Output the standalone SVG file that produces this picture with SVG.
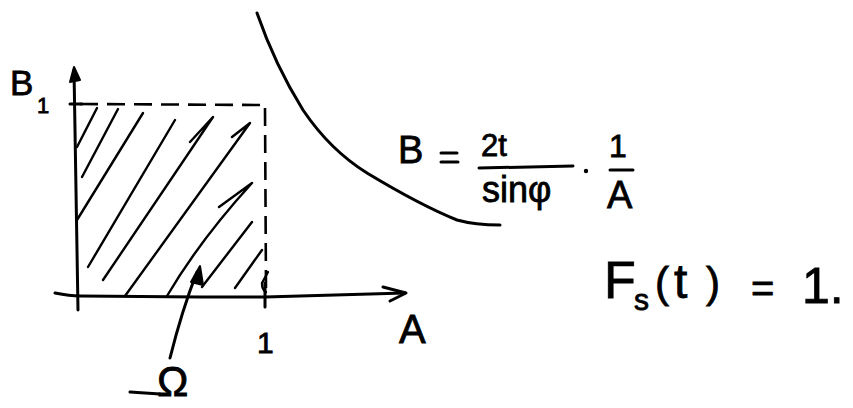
<svg xmlns="http://www.w3.org/2000/svg" width="853" height="408" viewBox="0 0 853 408">
  <style>
    .ink { fill: none; stroke: #000; stroke-width: 3; stroke-linecap: round; stroke-linejoin: round; }
    .thin { fill: none; stroke: #000; stroke-width: 2.4; stroke-linecap: round; stroke-linejoin: round; }
    .dash { fill: none; stroke: #000; stroke-width: 2.6; stroke-dasharray: 18 9; stroke-linecap: butt; }
    .t { font-family: "Liberation Sans", "DejaVu Sans", sans-serif; fill: #000; stroke: #000; stroke-width: 0.8; }
  </style>
  <rect width="853" height="408" fill="#fff"/>

  <g id="axes">
    <path class="ink" d="M55 293 Q70 296 80 296 L200 297 L265 297 Q340 295 405 293"/>
    <path class="ink" d="M383 287 L406 293 L390 301"/>
    <path class="ink" d="M78 310 Q76 200 74 70"/>
    <path d="M70 82 L74 67 L80 80 Z" fill="#000" stroke="#000" stroke-width="2" stroke-linejoin="round"/>
    <path class="ink" d="M70 104 L82 104"/>
    <path class="ink" d="M265 283 L265 307"/>
  </g>

  <g id="region">
    <path class="dash" d="M80 104 L265 105"/>
    <path class="dash" d="M265 108 L266 290"/>
    <path class="thin" d="M77 147 L97 108"/>
    <path class="thin" d="M82 177 L118 109"/>
    <path class="thin" d="M77 220 L143 113"/>
    <path class="thin" d="M88 267 L175 120"/>
    <path class="thin" d="M103 280 L213 117 L190 142"/>
    <path class="thin" d="M125 296 L250 123 L232 137"/>
    <path class="thin" d="M167 296 Q200 240 252 183 L219 207"/>
    <path class="thin" d="M202 287 L252 222"/>
    <path class="thin" d="M235 288 L262 250"/>
    <path class="thin" d="M268 272 L262 283 Q262 290 266 292"/>
  </g>

  <g id="curve">
    <path class="ink" d="M257 13 Q275 65 303 110 Q330 150 367 173 Q420 205 457 220 Q475 225 500 225"/>
  </g>

  <g id="labels">
    <text class="t" x="10" y="95" font-size="35">B</text>
    <text class="t" x="37" y="113" font-size="22">1</text>
    <text class="t" x="257" y="353" font-size="30">1</text>
    <text class="t" x="399" y="343" font-size="40">A</text>
    <text class="t" x="157" y="396" font-size="42">Ω</text>
    <path class="ink" d="M130 392 L160 394"/>
  </g>

  <g id="formula-B">
    <text class="t" x="398" y="163" font-size="38">B</text>
    <path class="ink" d="M441 153 L457 153 M441 162 L458 162"/>
    <text class="t" x="481" y="156" font-size="31">2t</text>
    <path class="ink" d="M479 168 L573 166"/>
    <text class="t" x="482" y="202" font-size="36">sinφ</text>
    <circle cx="586" cy="171" r="2.2" fill="#000"/>
    <text class="t" x="609" y="157" font-size="32">1</text>
    <path class="ink" d="M610 170 L633 170"/>
    <text class="t" x="607" y="208" font-size="38">A</text>
  </g>

  <g id="formula-F">
    <text class="t" x="604" y="298" font-size="52">F</text>
    <text class="t" x="634" y="310" font-size="30">s</text>
    <text class="t" x="655" y="297" font-size="42">(</text>
    <text class="t" x="674" y="298" font-size="48">t</text>
    <text class="t" x="706" y="297" font-size="42">)</text>
    <text class="t" x="751" y="302" font-size="40">=</text>
    <text class="t" x="802" y="303" font-size="50">1.</text>
  </g>

  <g id="connectors">
    <path class="ink" d="M170 358 Q182 310 197 272"/>
    <path d="M191 282 L200 266 L203 285 Z" fill="#000" stroke="#000" stroke-width="2" stroke-linejoin="round"/>
  </g>
</svg>
